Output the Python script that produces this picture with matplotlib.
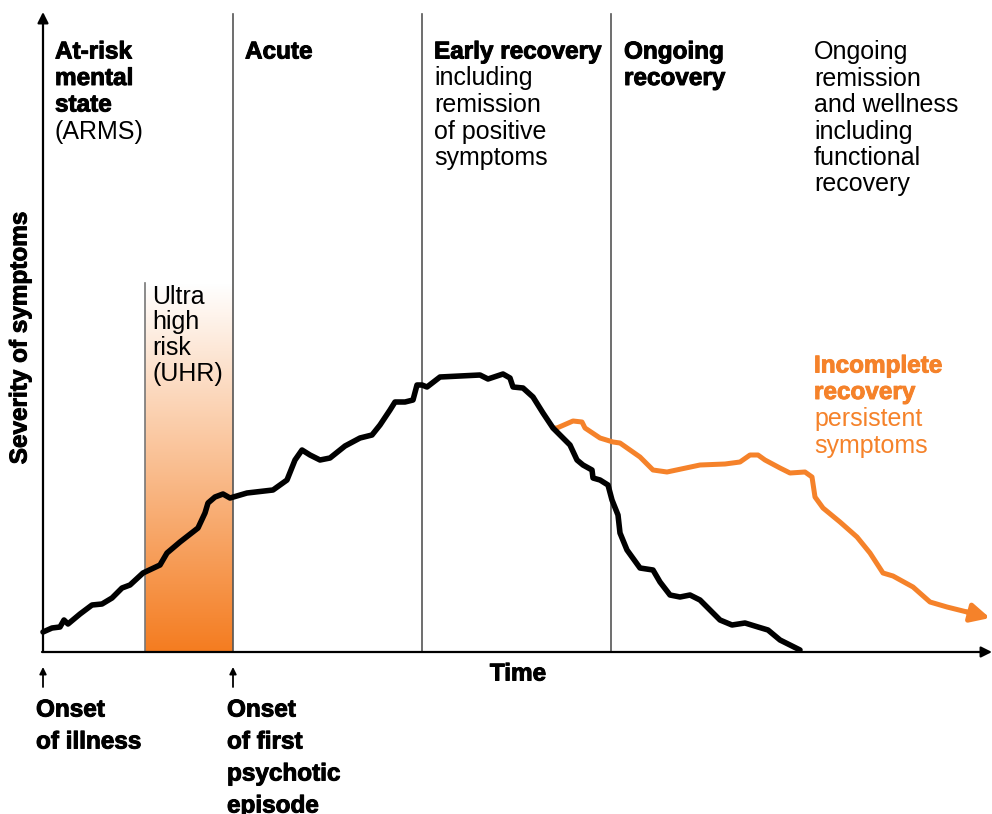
import matplotlib
matplotlib.use("Agg")
import matplotlib.pyplot as plt
import matplotlib.patheffects as pe
import numpy as np
from matplotlib.colors import LinearSegmentedColormap

plt.rcParams['font.family'] = ['Liberation Sans', 'DejaVu Sans']

ORANGE = "#F5822A"

# main course of illness (time, severity)
black_t = [0, 9, 17, 21, 25, 37, 49, 59, 69, 79, 87, 100, 117, 124, 137, 155, 162, 165, 172, 180,
           187, 204, 230, 244, 252, 259, 267, 277, 287, 302, 317, 329, 337, 347, 352, 362, 370, 374,
           379, 384, 397, 437, 445, 460, 467, 470, 480, 490, 500, 510, 520, 527, 534, 540, 549, 550,
           557, 565, 569, 575, 577, 584, 597, 610, 617, 627, 637, 647, 657, 667, 677, 689, 702, 715,
           725, 737, 747, 757]
black_s = [20, 24, 25, 32, 28, 38, 47, 48, 54, 64, 67, 79, 87, 99, 110, 124, 139, 149, 155, 158,
           154, 159, 162, 172, 192, 202, 197, 192, 194, 206, 214, 217, 227, 242, 250, 250, 252, 267,
           267, 265, 275, 277, 273, 278, 274, 265, 264, 255, 239, 224, 214, 207, 192, 187, 182, 174,
           172, 167, 152, 137, 119, 102, 84, 82, 70, 57, 55, 57, 52, 42, 32, 27, 29, 25,
           22, 12, 7, 2]

# incomplete recovery branch
orange_t = [510, 514, 530, 539, 542, 557, 570, 577, 597, 610, 624, 657, 682, 697, 707, 715, 722,
            737, 747, 762, 769, 772, 780, 797, 814, 827, 840, 850, 870, 887, 904, 924, 947]
orange_s = [224, 224, 231, 230, 224, 214, 210, 209, 195, 182, 180, 187, 188, 190, 197, 197, 192,
            184, 179, 180, 175, 155, 144, 130, 115, 99, 79, 76, 65, 50, 45, 40, 34]

phase_bounds = [190, 379, 568]
uhr_start, uhr_end, uhr_top = 102, 190, 369

fig = plt.figure(figsize=(9.92, 8.14), dpi=100)
ax = fig.add_axes([0, 0, 1, 1])
ax.set_xlim(-43, 949)
ax.set_ylim(-162, 652)
ax.axis('off')

# UHR gradient band
cmap = LinearSegmentedColormap.from_list("uhr", ["white", "#F47C20"])
grad = np.linspace(0, 1, 256).reshape(-1, 1)
ax.imshow(grad, cmap=cmap, extent=[uhr_start, uhr_end, 0, uhr_top], origin='upper',
          aspect='auto', zorder=1)
ax.plot([uhr_start, uhr_start], [0, uhr_top], color="#777777", lw=1.2, zorder=2)

for b in phase_bounds:
    ax.plot([b, b], [0, 638], color="#555555", lw=1.2, zorder=2)

# axes with arrows
ax.annotate('', xy=(0, 640), xytext=(0, 0),
            arrowprops=dict(arrowstyle='-|>', lw=1.6, color='black', mutation_scale=16, shrinkA=0, shrinkB=0))
ax.annotate('', xy=(949, 0), xytext=(-1, 0),
            arrowprops=dict(arrowstyle='-|>', lw=1.6, color='black', mutation_scale=16, shrinkA=0, shrinkB=0))

# curves
ax.plot(orange_t[:-1], orange_s[:-1], color=ORANGE, lw=3.6, solid_capstyle='round',
        solid_joinstyle='round', zorder=3)
ax.annotate('', xy=(orange_t[-1], orange_s[-1]), xytext=(orange_t[-2], orange_s[-2]),
            arrowprops=dict(arrowstyle='-|>', lw=3.6, color=ORANGE, mutation_scale=28, shrinkA=0, shrinkB=0),
            zorder=3)
ax.plot(black_t, black_s, color='black', lw=4, solid_capstyle='round', solid_joinstyle='round', zorder=4)

FS = 18
heavy = [pe.withStroke(linewidth=0.7, foreground='black')]


def put_lines(x, y0, lines, step=26.5, color='black'):
    for i, (txt, w) in enumerate(lines):
        fx = [pe.withStroke(linewidth=0.7, foreground=color)] if w == 'bold' else None
        ax.text(x, y0 - i * step, txt, fontsize=FS if w != 'bold' else FS - 0.5, fontweight=w,
                color=color, ha='left', va='center', path_effects=fx)


put_lines(12, 600, [("At-risk", 'bold'), ("mental", 'bold'), ("state", 'bold'), ("(ARMS)", 'normal')])
put_lines(202, 600, [("Acute", 'bold')])
put_lines(391, 600, [("Early recovery", 'bold'), ("including", 'normal'), ("remission", 'normal'),
                     ("of positive", 'normal'), ("symptoms", 'normal')])
put_lines(581, 600, [("Ongoing", 'bold'), ("recovery", 'bold')])
put_lines(771, 600, [("Ongoing", 'normal'), ("remission", 'normal'), ("and wellness", 'normal'),
                     ("including", 'normal'), ("functional", 'normal'), ("recovery", 'normal')])
put_lines(109, 355, [("Ultra", 'normal'), ("high", 'normal'), ("risk", 'normal'), ("(UHR)", 'normal')],
          step=25.5)
put_lines(771, 286, [("Incomplete", 'bold'), ("recovery", 'bold'), ("persistent", 'normal'),
                     ("symptoms", 'normal')], color=ORANGE)

ax.text(-23, 314, "Severity of symptoms", fontsize=FS - 0.5, fontweight='bold', rotation=90,
        ha='center', va='center', path_effects=heavy)
ax.text(475, -22, "Time", fontsize=FS - 0.5, fontweight='bold', ha='center', va='center', path_effects=heavy)

for x0 in [0, 190]:
    ax.annotate('', xy=(x0, -15), xytext=(x0, -35),
                arrowprops=dict(arrowstyle='-|>', lw=1.3, color='black', mutation_scale=10, shrinkA=0, shrinkB=0))

put_lines(-7, -58, [("Onset", 'bold'), ("of illness", 'bold')], step=32)
put_lines(184, -58, [("Onset", 'bold'), ("of first", 'bold'), ("psychotic", 'bold'), ("episode", 'bold')],
          step=32)

fig.savefig("out.png", dpi=100)
